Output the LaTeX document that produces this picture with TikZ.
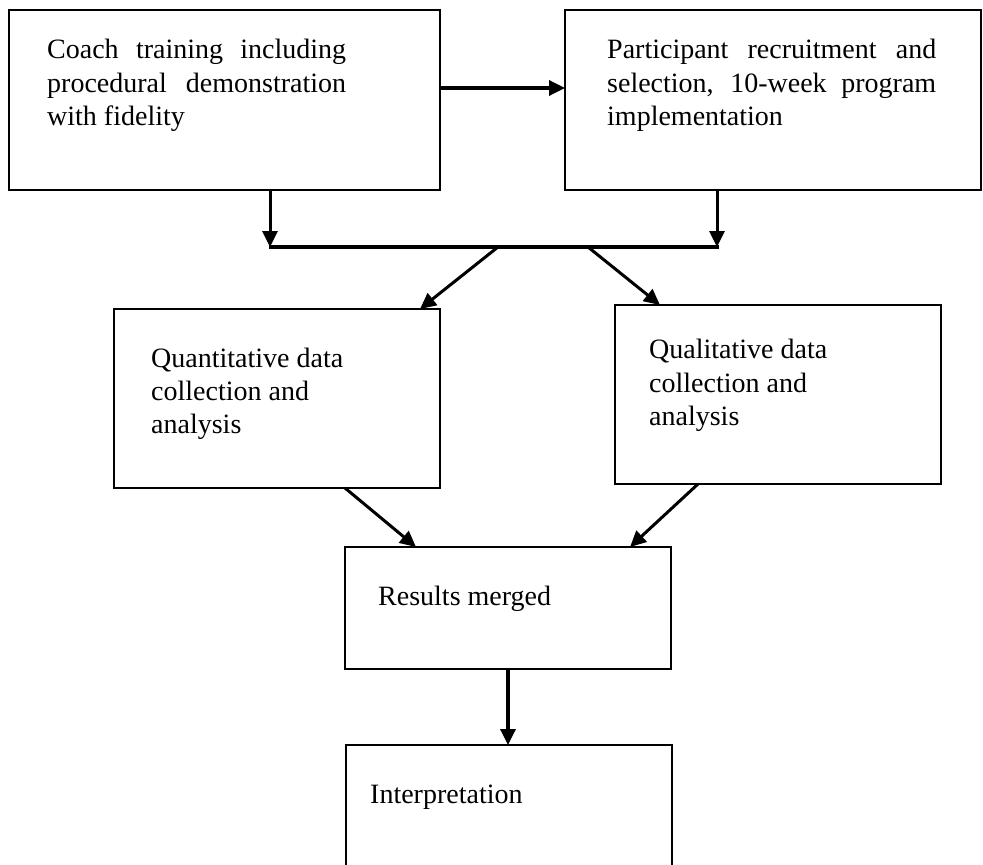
\documentclass[tikz,border=0pt]{standalone}
\usepackage{fontspec}
\setmainfont{Liberation Serif}
\usetikzlibrary{arrows.meta}
\begin{document}
\begin{tikzpicture}[x=1pt,y=-1pt,
  box/.style={draw, line width=2.6pt, outer sep=0pt, inner sep=0pt, anchor=north west},
  txt/.style={anchor=base west, inner sep=0pt, font=\fontsize{28}{33}\selectfont},
  arr/.style={line width=3pt, -{Triangle[length=16pt,width=15pt]}},
  bar/.style={line width=3.4pt}]
\useasboundingbox (0,0) rectangle (983,865);
% boxes
\node[box, minimum width=431pt, minimum height=180pt] (b1) at (9,10) {};
\node[box, minimum width=416pt, minimum height=180pt] (b2) at (565,10) {};
\node[box, minimum width=326pt, minimum height=179pt] (b3) at (114,309) {};
\node[box, minimum width=326pt, minimum height=179pt] (b4) at (615,305) {};
\node[box, minimum width=326pt, minimum height=122pt] (b5) at (345,547) {};
\node[box, minimum width=326pt, minimum height=200pt] (b6) at (346,745) {};
% texts
\node[txt] (t1a) at (47,58) {\makebox[299pt][s]{Coach training including}};
\node[txt] (t1b) at (47,92) {\makebox[299pt][s]{procedural demonstration}};
\node[txt] (t1c) at (47,125) {with fidelity};
\node[txt] (t2a) at (607,58) {\makebox[329pt][s]{Participant recruitment and}};
\node[txt] (t2b) at (607,92) {\makebox[329pt][s]{selection, 10-week program}};
\node[txt] (t2c) at (607,125) {implementation};
\node[txt] (t3a) at (151,367) {Quantitative data};
\node[txt] (t3b) at (151,400) {collection and};
\node[txt] (t3c) at (151,433) {analysis};
\node[txt] (t4a) at (649,358) {Qualitative data};
\node[txt] (t4b) at (649,392) {collection and};
\node[txt] (t4c) at (649,425) {analysis};
\node[txt] (t5) at (378,605) {Results merged};
\node[txt] (t6) at (370,803) {Interpretation};
% junction
\coordinate (jl) at (270,247);
\coordinate (jr) at (717,247);
\coordinate (ja) at (498,247);
\coordinate (jb) at (588,247);
% connectors
\draw[arr, line width=3.4pt] ([yshift=12pt]b1.east) -- ([yshift=12pt]b2.west);
\draw[arr] (b1.south -| jl) -- (jl);
\draw[arr] (b2.south -| jr) -- (jr);
\draw[bar] ([xshift=-1.5pt]jl) -- ([xshift=1.5pt]jr);
\draw[arr] (ja) -- ([xshift=306pt]b3.north west);
\draw[arr] (jb) -- ([xshift=45pt]b4.north west);
\draw[arr] ([xshift=231pt]b3.south west) -- ([xshift=71pt]b5.north west);
\draw[arr] ([xshift=83pt]b4.south west) -- ([xshift=285pt]b5.north west);
\draw[arr, line width=3.4pt] ([xshift=163pt]b5.south west) -- ([xshift=162pt]b6.north west);
\end{tikzpicture}
\end{document}
